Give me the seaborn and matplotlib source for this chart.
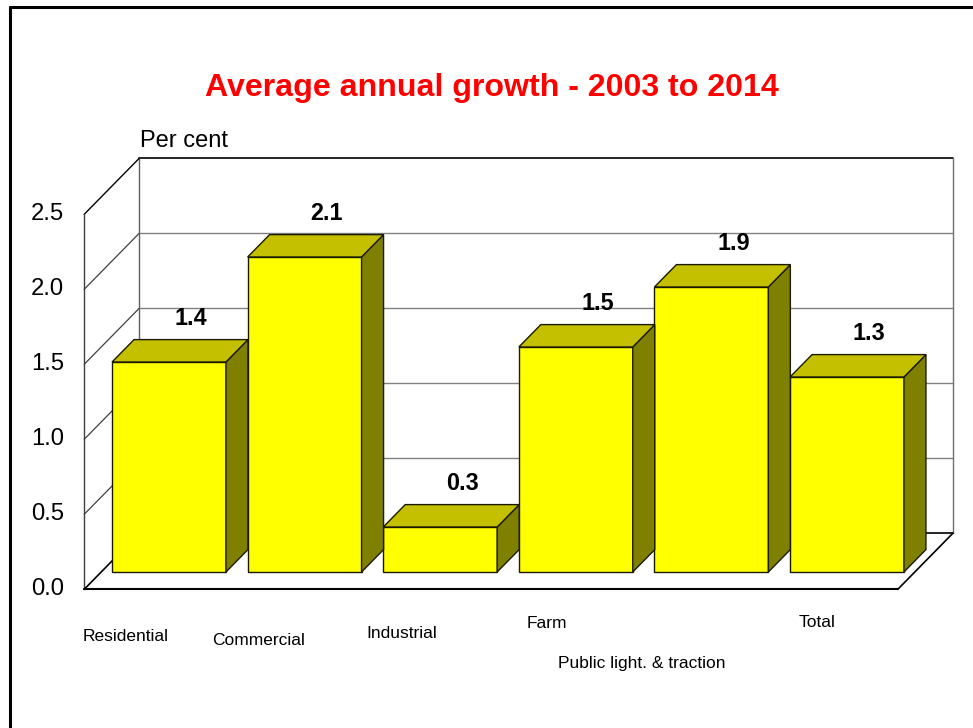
import matplotlib
matplotlib.use("Agg")
import matplotlib.pyplot as plt
from matplotlib.patches import Polygon
from matplotlib.lines import Line2D
import seaborn as sns
import pandas as pd

# Chart data
categories = ["Residential", "Commercial", "Industrial", "Farm",
              "Public light. & traction", "Total"]
growth = [1.4, 2.1, 0.3, 1.5, 1.9, 1.3]
value_labels = ["1.4", "2.1", "0.3", "1.5", "1.9", "1.3"]
y_ticks = [0.0, 0.5, 1.0, 1.5, 2.0, 2.5]
y_tick_labels = ["0.0", "0.5", "1.0", "1.5", "2.0", "2.5"]

# Staggered category label placement (pixel offsets from each bar's base centre)
label_dx = [-43, -46, -38, -29, -70, -30]
label_dy = [-69, -73, -66, -56, -96, -55]

sns.set_style("white")
plt.rcParams["font.family"] = ["Liberation Sans", "DejaVu Sans"]

fig = plt.figure(figsize=(9.73, 7.28), dpi=100)
ax = fig.add_axes([0, 0, 1, 1])

df = pd.DataFrame({"category": categories, "growth": growth})
BAR_W = 0.84
sns.barplot(data=df, x="category", y="growth", color="#FFFF00",
            saturation=1, width=BAR_W, edgecolor="#1a1a00", linewidth=1.0,
            ax=ax, zorder=3)
bars = list(ax.patches)

# Data limits so that one category step and one value unit have fixed pixel sizes
PX_X = 135.6   # pixels per category step
PX_Y = 150.0   # pixels per unit of value
ax.set_xlim(-169 / PX_X, (973 - 169) / PX_X)
ax.set_ylim(-(728 - 572) / PX_Y, 572 / PX_Y)
ax.set_axis_off()

# Oblique projection of the depth axis
DX = 55 / PX_X
DY = 56 / PX_Y
Z0 = 0.31          # depth of the bar front faces
BAR_D = 0.40       # bar depth
X_LO, X_HI = -0.5, len(categories) - 0.5
Y_TOP = y_ticks[-1]


def proj(x, y, z):
    return (x + (z - Z0) * DX, y + (z - Z0) * DY)


# Walls and floor
back = [proj(X_LO, 0, 1), proj(X_HI, 0, 1), proj(X_HI, Y_TOP, 1), proj(X_LO, Y_TOP, 1)]
left = [proj(X_LO, 0, 0), proj(X_LO, 0, 1), proj(X_LO, Y_TOP, 1), proj(X_LO, Y_TOP, 0)]
floor = [proj(X_LO, 0, 0), proj(X_HI, 0, 0), proj(X_HI, 0, 1), proj(X_LO, 0, 1)]
for poly in (back, left, floor):
    ax.add_patch(Polygon(poly, closed=True, facecolor="white", edgecolor="none", zorder=0))

for t in y_ticks[1:-1]:
    ax.add_line(Line2D(*zip(proj(X_LO, t, 1), proj(X_HI, t, 1)), color="#808080", lw=1.0, zorder=1))
    ax.add_line(Line2D(*zip(proj(X_LO, t, 0), proj(X_LO, t, 1)), color="#404040", lw=0.9, zorder=1))


def edge(p, q, color="black", lw=1.2):
    ax.add_line(Line2D(*zip(p, q), color=color, lw=lw, zorder=1.5))


edge(proj(X_LO, Y_TOP, 1), proj(X_HI, Y_TOP, 1))
edge(proj(X_HI, Y_TOP, 1), proj(X_HI, 0, 1), color="#707070", lw=1.0)
edge(proj(X_LO, Y_TOP, 1), proj(X_LO, 0, 1), color="#606060", lw=1.0)
edge(proj(X_LO, Y_TOP, 0), proj(X_LO, Y_TOP, 1), lw=1.0)
edge(proj(X_LO, Y_TOP, 0), proj(X_LO, 0, 0), color="#404040", lw=1.0)
edge(proj(X_LO, 0, 0), proj(X_LO, 0, 1), lw=1.2)
edge(proj(X_LO, 0, 1), proj(X_HI, 0, 1), lw=1.2)
edge(proj(X_LO, 0, 0), proj(X_HI, 0, 0), lw=1.5)
edge(proj(X_HI, 0, 0), proj(X_HI, 0, 1), lw=1.2)

# Top and side faces of each bar, built from the bars seaborn drew
bd_x, bd_y = BAR_D * DX, BAR_D * DY
for patch, lab in zip(bars, value_labels):
    x0 = patch.get_x()
    w = patch.get_width()
    h = patch.get_height()
    x1 = x0 + w
    top = [(x0, h), (x1, h), (x1 + bd_x, h + bd_y), (x0 + bd_x, h + bd_y)]
    side = [(x1, 0), (x1 + bd_x, bd_y), (x1 + bd_x, h + bd_y), (x1, h)]
    ax.add_patch(Polygon(side, closed=True, facecolor="#808000",
                         edgecolor="#1a1a00", lw=1.0, zorder=3))
    ax.add_patch(Polygon(top, closed=True, facecolor="#C4C000",
                         edgecolor="#1a1a00", lw=1.0, zorder=3))
    ax.annotate(lab, (x0 + w / 2 + bd_x, h + bd_y), xytext=(0, 21),
                textcoords="offset pixels", ha="center", va="center",
                fontsize=16.8, fontweight="bold", color="black", zorder=4)

# Value axis labels on the front edge of the left wall
for t, s in zip(y_ticks, y_tick_labels):
    ax.annotate(s, proj(X_LO, t, 0), xytext=(-20, 0), textcoords="offset pixels",
                ha="right", va="center", fontsize=17.2, color="black")

# Category labels
for i, (name, dx, dy) in enumerate(zip(categories, label_dx, label_dy)):
    ax.annotate(name, (i, 0), xytext=(dx, dy), textcoords="offset pixels",
                ha="center", va="baseline", fontsize=12.5, color="black")

# Unit label above the back wall
ax.annotate("Per cent", proj(X_LO, Y_TOP, 1), xytext=(1, 11), textcoords="offset pixels",
            ha="left", va="baseline", fontsize=17, color="black")

fig.text(491.5 / 973, 1 - 96 / 728, "Average annual growth - 2003 to 2014",
         ha="center", va="baseline", fontsize=23.1, fontweight="bold", color="#FF0000")

# Frame around the chart area
fig.add_artist(Line2D([10 / 973, 10 / 973], [0, 1 - 7 / 728], transform=fig.transFigure,
                      color="black", lw=2.2))
fig.add_artist(Line2D([10 / 973, 1], [1 - 7 / 728, 1 - 7 / 728], transform=fig.transFigure,
                      color="black", lw=2.2))

fig.savefig("out.png", dpi=100)
